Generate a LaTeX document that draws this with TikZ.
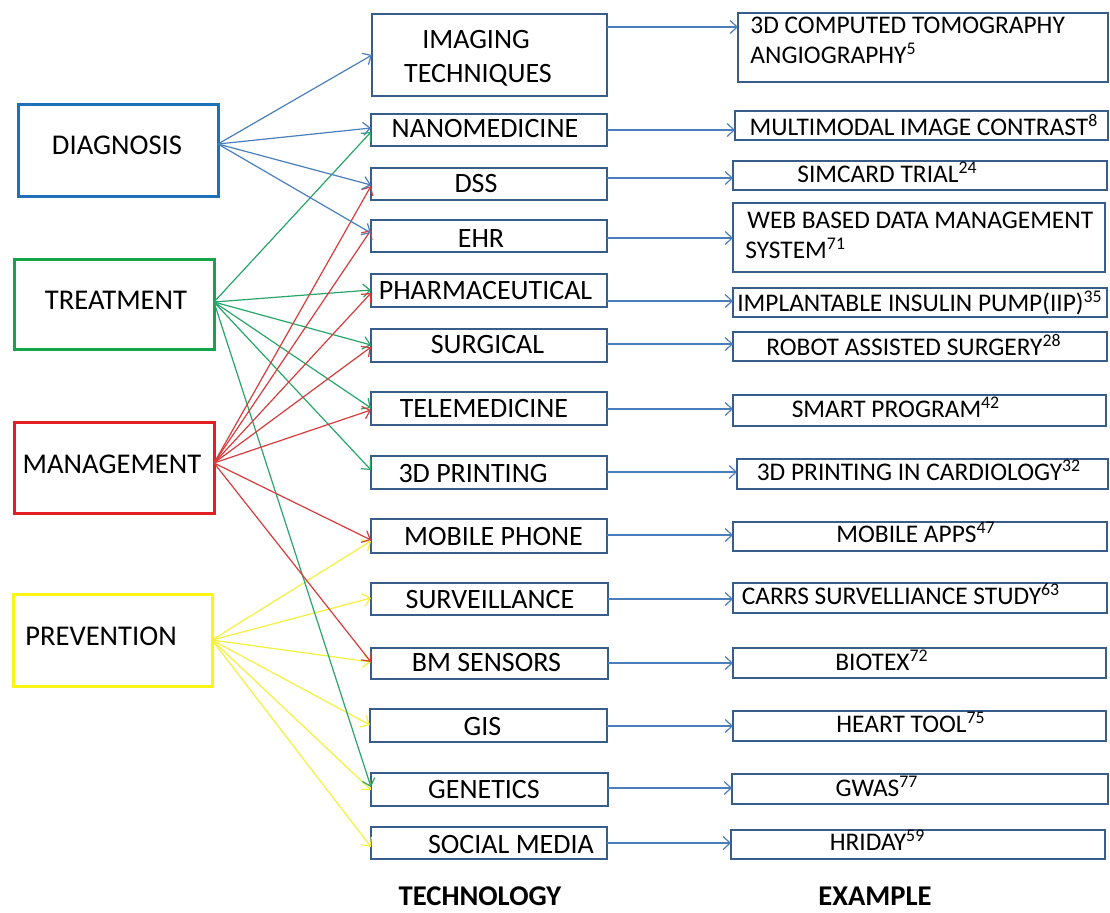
\documentclass[tikz,border=0pt]{standalone}
\usepackage{fontspec}
\setmainfont{Carlito}
\usetikzlibrary{arrows.meta}
\definecolor{diagblue}{RGB}{30,112,185}
\definecolor{treatgreen}{RGB}{20,165,75}
\definecolor{mgmtred}{RGB}{225,30,35}
\definecolor{prevyellow}{RGB}{250,245,20}
\definecolor{midline}{RGB}{56,93,138}
\definecolor{connblue}{RGB}{74,126,187}
\definecolor{conngreen}{RGB}{40,165,105}
\definecolor{connred}{RGB}{215,60,60}
\definecolor{connyellow}{RGB}{245,240,60}
\newcommand\bx[6]{\node[#6, minimum width={(#4-#2)*0.5pt}, minimum height={(#5-#3)*0.5pt}] (#1) at ({(#2+#4)/2},{(#3+#5)/2}) {};}
\begin{document}
\begin{tikzpicture}[x=0.5pt,y=-0.5pt,
  lbox/.style={draw, line width=1.5pt, inner sep=0pt, outer sep=0pt},
  mbox/.style={draw=midline, line width=1.4pt, inner sep=0pt, outer sep=0pt},
  ltext/.style={font=\fontsize{14.3}{17}\selectfont, anchor=base, inner sep=0pt},
  mtext/.style={font=\fontsize{14}{17}\selectfont, anchor=base, inner sep=0pt},
  rtext/.style={font=\fontsize{12.7}{15}\selectfont, anchor=base, inner sep=0pt},
  btext/.style={font=\fontsize{14.3}{17}\selectfont\bfseries, anchor=base, inner sep=0pt},
  conn/.style={line width=0.6pt, -{Straight Barb[length=3.5pt,width=6.5pt]}},
  hconn/.style={conn, draw=connblue}]
\useasboundingbox (0,0) rectangle (1110,912);
% left boxes
\bx{diag}{18}{104}{218}{196}{lbox, draw=diagblue}
\bx{treat}{14}{259}{214}{349}{lbox, draw=treatgreen}
\bx{mgmt}{14}{422}{214}{513}{lbox, draw=mgmtred}
\bx{prev}{13}{594}{212}{686}{lbox, draw=prevyellow}
\node[ltext] (tdiag) at (117,154) {DIAGNOSIS};
\node[ltext] (ttreat) at (116,309) {TREATMENT};
\node[ltext] (tmgmt) at (112,473) {MANAGEMENT};
\node[ltext] (tprev) at (101,645) {PREVENTION};
% middle boxes
\bx{m1}{372}{14}{607}{96}{mbox}
\bx{m2}{371}{114}{607}{146}{mbox}
\bx{m3}{371}{168}{607}{200}{mbox}
\bx{m4}{371}{220}{607}{252}{mbox}
\bx{m5}{371}{274}{607}{307}{mbox}
\bx{m6}{371}{329}{607}{362}{mbox}
\bx{m7}{371}{392}{607}{425}{mbox}
\bx{m8}{371}{456}{607}{489}{mbox}
\bx{m9}{371}{519}{607}{553}{mbox}
\bx{m10}{371}{583}{608}{615}{mbox}
\bx{m11}{371}{648}{608}{679}{mbox}
\bx{m12}{370}{709}{607}{742}{mbox}
\bx{m13}{371}{773}{608}{806}{mbox}
\bx{m14}{371}{827}{607}{859}{mbox}
\node[mtext] (tm1a) at (476,48) {IMAGING};
\node[mtext] (tm1b) at (478,82.5) {TECHNIQUES};
\node[mtext] (tm2) at (485,137) {NANOMEDICINE};
\node[mtext] (tm3) at (476,192) {DSS};
\node[mtext] (tm4) at (481,247) {EHR};
\node[mtext] (tm5) at (485.5,299) {PHARMACEUTICAL};
\node[mtext] (tm6) at (487.5,353) {SURGICAL};
\node[mtext] (tm7) at (484,417) {TELEMEDICINE};
\node[mtext] (tm8) at (473,482) {3D PRINTING};
\node[mtext] (tm9) at (493.5,545) {MOBILE PHONE};
\node[mtext] (tm10) at (490,608) {SURVEILLANCE};
\node[mtext] (tm11) at (486.5,671) {BM SENSORS};
\node[mtext] (tm12) at (482.5,735) {GIS};
\node[mtext] (tm13) at (484,798) {GENETICS};
\node[mtext] (tm14) at (511,853) {SOCIAL MEDIA};
\node[btext] (ttech) at (480,905) {TECHNOLOGY};
% right boxes
\bx{r1}{738}{13}{1108}{82}{mbox}
\bx{r2}{735}{111}{1108}{140}{mbox}
\bx{r3}{733}{161}{1107}{190}{mbox}
\bx{r4}{733}{203}{1105}{272}{mbox}
\bx{r5}{733}{288}{1107}{317}{mbox}
\bx{r6}{733}{332}{1107}{361}{mbox}
\bx{r7}{733}{395}{1106}{426}{mbox}
\bx{r8}{737}{459}{1108}{489}{mbox}
\bx{r9}{733}{522}{1107}{551}{mbox}
\bx{r10}{733}{583}{1107}{613}{mbox}
\bx{r11}{733}{648}{1106}{678}{mbox}
\bx{r12}{733}{711}{1106}{741}{mbox}
\bx{r13}{732}{774}{1108}{804}{mbox}
\bx{r14}{731}{830}{1105}{859}{mbox}
\node[rtext, anchor=base west] (tr1a) at (750,33) {3D COMPUTED TOMOGRAPHY};
\node[rtext, anchor=base west] (tr1b) at (750,63) {ANGIOGRAPHY\textsuperscript{5}};
\node[rtext] (tr2) at (924,135) {MULTIMODAL IMAGE CONTRAST\textsuperscript{8}};
\node[rtext] (tr3) at (887.5,182) {SIMCARD TRIAL\textsuperscript{24}};
\node[rtext, anchor=base west] (tr4a) at (747,228) {WEB BASED DATA MANAGEMENT};
\node[rtext, anchor=base west] (tr4b) at (745,258) {SYSTEM\textsuperscript{71}};
\node[rtext] (tr5) at (920,311) {IMPLANTABLE INSULIN PUMP(IIP)\textsuperscript{35}};
\node[rtext] (tr6) at (914,355) {ROBOT ASSISTED SURGERY\textsuperscript{28}};
\node[rtext] (tr7) at (896,417) {SMART PROGRAM\textsuperscript{42}};
\node[rtext] (tr8) at (919,480) {3D PRINTING IN CARDIOLOGY\textsuperscript{32}};
\node[rtext] (tr9) at (916,542) {MOBILE APPS\textsuperscript{47}};
\node[rtext] (tr10) at (901,604) {CARRS SURVELLIANCE STUDY\textsuperscript{63}};
\node[rtext] (tr11) at (882,670) {BIOTEX\textsuperscript{72}};
\node[rtext] (tr12) at (911,732) {HEART TOOL\textsuperscript{75}};
\node[rtext] (tr13) at (877,796) {GWAS\textsuperscript{77}};
\node[rtext] (tr14) at (877.5,850) {HRIDAY\textsuperscript{59}};
\node[btext] (texample) at (875,905) {EXAMPLE};
% horizontal connectors
\draw[hconn] (m1.east |- 0,27) -- (r1.west |- 0,27);
\draw[hconn] (m2.east |- 0,130) -- (r2.west |- 0,130);
\draw[hconn] (m3.east |- 0,178) -- (r3.west |- 0,178);
\draw[hconn] (m4.east |- 0,238) -- (r4.west |- 0,238);
\draw[hconn] (m5.east |- 0,301) -- (r5.west |- 0,301);
\draw[hconn] (m6.east |- 0,344) -- (r6.west |- 0,344);
\draw[hconn] (m7.east |- 0,409) -- (r7.west |- 0,409);
\draw[hconn] (m8.east |- 0,472) -- (r8.west |- 0,472);
\draw[hconn] (m9.east |- 0,535) -- (r9.west |- 0,535);
\draw[hconn] (m10.east |- 0,599) -- (r10.west |- 0,599);
\draw[hconn] (m11.east |- 0,663) -- (r11.west |- 0,663);
\draw[hconn] (m12.east |- 0,726) -- (r12.west |- 0,726);
\draw[hconn] (m13.east |- 0,788) -- (r13.west |- 0,788);
\draw[hconn] (m14.east |- 0,843) -- (r14.west |- 0,843);
% sources
\coordinate (ds) at (diag.east |- 0,144);
\coordinate (ts) at (treat.east |- 0,302);
\coordinate (ms) at (mgmt.east |- 0,463);
\coordinate (ps) at (prev.east |- 0,640);
% yellow
\foreach \t/\y in {m9/541,m10/598,m11/662,m12/725,m13/790,m14/847}
  \draw[conn, draw=connyellow] (ps) -- (\t.west |- 0,\y);
% green
\foreach \t/\y in {m2/132,m5/290,m6/345,m7/408,m8/470,m13/787}
  \draw[conn, draw=conngreen] (ts) -- (\t.west |- 0,\y);
% red
\foreach \t/\y in {m3/186,m4/230,m5/293,m6/347,m7/410,m9/540,m11/662}
  \draw[conn, draw=connred] (ms) -- (\t.west |- 0,\y);
% blue
\foreach \t/\y in {m1/55,m2/128,m3/185,m4/233}
  \draw[conn, draw=connblue] (ds) -- (\t.west |- 0,\y);
\end{tikzpicture}
\end{document}
